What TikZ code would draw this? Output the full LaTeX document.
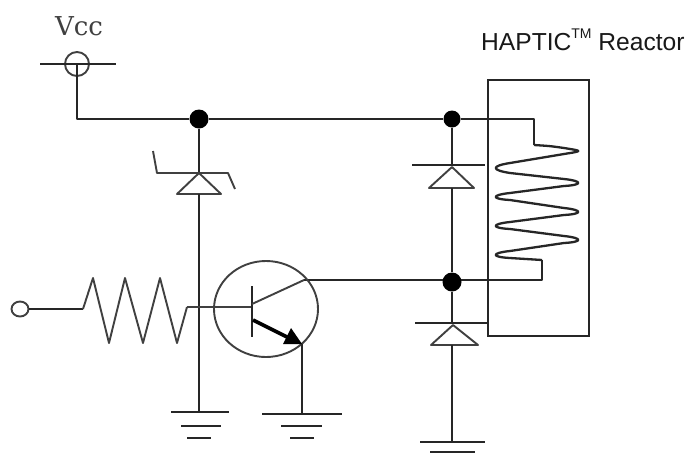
\documentclass[tikz,border=0pt]{standalone}
\usepackage{fontspec}
\usetikzlibrary{shapes.geometric,backgrounds}
\newfontfamily\hapticfont{Liberation Sans}
\newfontfamily\vccfont{DejaVu Serif}
\begin{document}
\begin{tikzpicture}[x=1pt,y=-1pt,
  wire/.style={line width=2.3pt,draw=black!85,line join=round},
  thin wire/.style={line width=1.9pt,draw=black!75,line join=round},
  dotnode/.style={circle,fill=black,inner sep=0pt,minimum size=#1},
  term/.style={draw=black!75,line width=1.9pt,inner sep=0pt}]
\useasboundingbox (0,0) rectangle (687,459);
% labels
\node[font=\vccfont\fontsize{26}{26}\selectfont,text=black!75,anchor=base,inner sep=0pt] (vcclabel) at (79,35) {Vcc};
\node[font=\hapticfont\fontsize{24.6}{24}\selectfont,text=black!90,anchor=base west,inner sep=0pt] (hapticlabel) at (481,50) {HAPTIC\raisebox{12pt}{\fontsize{14}{14}\selectfont TM} Reactor};
% junctions
\node[dotnode=19pt] (j1) at (199,119) {};
\node[dotnode=17pt] (j2) at (452,119) {};
\node[dotnode=19pt] (j3) at (452,282) {};
% Vcc
\node[term,circle,minimum size=24pt] (vcc) at (77,64) {};
\draw[wire] (40,64) -- (116,64);
\coordinate (vccc) at (77,64);
\draw[wire] (vccc) -- (77,119) -- (j1);
\draw[wire] (j1) -- (j2);
% reactor box
\node[draw=black!85,line width=2.3pt,minimum width=101pt,minimum height=256pt,inner sep=0pt] (box) at (538.5,208) {};
% coil
\coordinate (coilin) at (534,145);
\coordinate (coilout) at (542,260);
\draw[wire] (j2) -- (534,119) -- (coilin);
\draw[wire] (coilin) .. controls (550,146) .. (564,148)
  .. controls (583,151) and (583,151) .. (564,154)
  -- (510,163) .. controls (491,166) and (491,170) .. (510,173)
  -- (564,179) .. controls (583,181) and (583,185) .. (564,186)
  -- (510,193) .. controls (491,195) and (491,199) .. (510,200)
  -- (564,208) .. controls (583,210) and (583,214) .. (564,215)
  -- (510,222) .. controls (491,224) and (491,228) .. (510,229)
  -- (564,236) .. controls (583,238) and (583,242) .. (564,243)
  -- (510,251) .. controls (491,253) and (491,257) .. (510,258)
  -- (coilout);
\coordinate (j3r) at (452,280);
\begin{pgfonlayer}{background}
\fill[white] (0,0) rectangle (687,459);
\draw[wire] (coilout) -- (542,280) -- (j3r);
\end{pgfonlayer}
% zener diode
\coordinate (za) at (199,173);
\coordinate (zb) at (199,194);
\draw[wire] (j1) -- (za);
\draw[thin wire] (153,151) -- (157,173) -- (228,173) -- (235,189);
\draw[thin wire] (za) -- (177,194) -- (221,194) -- cycle;
\coordinate (g1) at (199,412);
\draw[wire] (zb) -- (g1);
\draw[wire] (171,412) -- (229,412);
\draw[wire] (181,426) -- (221,426);
\draw[wire] (187,438) -- (211,438);
% input and resistor
\node[term,ellipse,minimum width=17pt,minimum height=15pt] (in) at (20,309) {};
\coordinate (r1) at (83,309);
\coordinate (r2) at (187,307);
\coordinate (base) at (252,307);
\draw[wire] (in) -- (r1);
\draw[thin wire] (r1) -- (93,278) -- (109,343) -- (125,278) -- (143,343) -- (160,278) -- (177,343) -- (r2);
\draw[thin wire] (r2) -- (base);
% transistor
\node[draw=black!75,line width=1.9pt,ellipse,minimum width=104pt,minimum height=96pt,inner sep=0pt] (q) at (266,309) {};
\draw[wire] (252,286) -- (252,337);
\coordinate (c) at (304,280);
\coordinate (e) at (302,344);
\draw[thin wire] (252,304) -- (c);
\begin{pgfonlayer}{background}
\draw[wire] (c) -- (j3r);
\end{pgfonlayer}
\draw[line width=3.6pt,black] (253,320) -- (289,338);
\fill[black] (e) -- (283,344) -- (291,328) -- cycle;
\coordinate (g2) at (302,414);
\draw[wire] (e) -- (g2);
\draw[wire] (262,414) -- (342,414);
\draw[wire] (281,426) -- (322,426);
\draw[wire] (290,438) -- (314,438);
% diode 2
\coordinate (d2a) at (452,165);
\coordinate (d2b) at (452,188);
\draw[wire] (j2) -- (d2a);
\draw[wire] (412,165) -- (485,165);
\draw[thin wire] (452,167) -- (429,188) -- (474,188) -- cycle;
\draw[wire] (d2b) -- (j3);
% diode 3
\coordinate (d3a) at (452,323);
\coordinate (d3b) at (452,345);
\draw[wire] (j3) -- (d3a);
\draw[wire] (415,323) -- (488,323);
\draw[thin wire] (453,325) -- (431,345) -- (478,345) -- cycle;
\coordinate (g3) at (452,442);
\draw[wire] (d3b) -- (g3);
\draw[wire] (420,442) -- (485,442);
\draw[wire] (430,452) -- (475,452);
\end{tikzpicture}
\end{document}
